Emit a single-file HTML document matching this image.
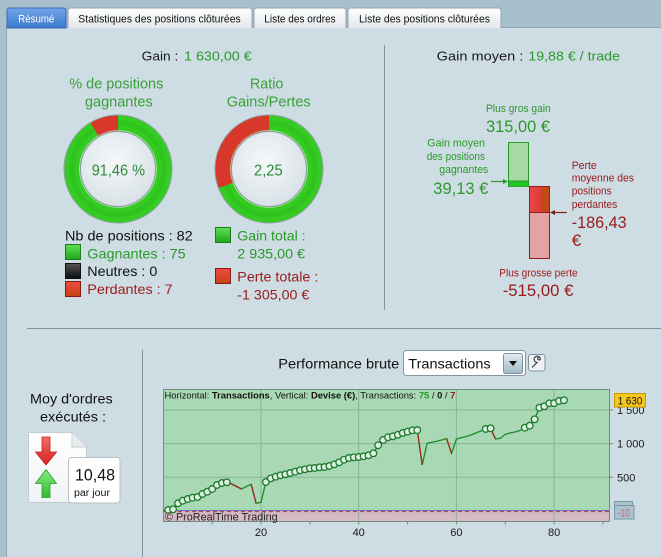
<!DOCTYPE html>
<html><head><meta charset="utf-8">
<style>
html,body{margin:0;padding:0;width:661px;height:557px;overflow:hidden;background:#a8c0cc;}
svg{display:block;font-family:"Liberation Sans",Arial,sans-serif;}
</style></head><body>
<svg width="661" height="557" viewBox="0 0 661 557" xmlns="http://www.w3.org/2000/svg">
<defs>
 <linearGradient id="tabA" x1="0" y1="0" x2="0" y2="1"><stop offset="0" stop-color="#72a6e8"/><stop offset="1" stop-color="#3a77cf"/></linearGradient>
 <linearGradient id="tabI" x1="0" y1="0" x2="0" y2="1"><stop offset="0" stop-color="#ffffff"/><stop offset="1" stop-color="#e4e9ec"/></linearGradient>
 <radialGradient id="disc" cx="0.45" cy="0.4" r="0.65"><stop offset="0" stop-color="#f6f8fa"/><stop offset="1" stop-color="#d6e0e6"/></radialGradient>
 <linearGradient id="sqG" x1="0" y1="0" x2="0" y2="1"><stop offset="0" stop-color="#5ee052"/><stop offset="1" stop-color="#1ea818"/></linearGradient>
 <linearGradient id="sqK" x1="0" y1="0" x2="0" y2="1"><stop offset="0" stop-color="#555"/><stop offset="1" stop-color="#0c0c0c"/></linearGradient>
 <linearGradient id="sqR" x1="0" y1="0" x2="0" y2="1"><stop offset="0" stop-color="#ee4a44"/><stop offset="1" stop-color="#c24410"/></linearGradient>
 <linearGradient id="redTop" x1="0" y1="0" x2="1" y2="0"><stop offset="0" stop-color="#e84848"/><stop offset="0.55" stop-color="#dc3c38"/><stop offset="0.6" stop-color="#c84818"/><stop offset="1" stop-color="#c04a14"/></linearGradient>
 <linearGradient id="btn" x1="0" y1="0" x2="0" y2="1"><stop offset="0" stop-color="#e4edf3"/><stop offset="1" stop-color="#9fb8c7"/></linearGradient>
 <linearGradient id="arR" x1="0" y1="0" x2="0" y2="1"><stop offset="0" stop-color="#f46a66"/><stop offset="1" stop-color="#d42222"/></linearGradient>
 <linearGradient id="arG" x1="0" y1="0" x2="0" y2="1"><stop offset="0" stop-color="#86ec7e"/><stop offset="1" stop-color="#34b834"/></linearGradient>
 <linearGradient id="doc" x1="0" y1="0" x2="0" y2="1"><stop offset="0" stop-color="#ffffff"/><stop offset="1" stop-color="#f0f3f5"/></linearGradient>
</defs>

<!-- panel -->
<rect x="6" y="27" width="655" height="530" fill="#cedce3"/>
<line x1="6" y1="27.5" x2="661" y2="27.5" stroke="#8ea6b3"/>
<line x1="6.5" y1="27" x2="6.5" y2="557" stroke="#8ea6b3"/>

<!-- tabs -->
<path d="M7,28 V11 Q7,8 10,8 H63 Q66,8 66,11 V28 Z" fill="url(#tabA)" stroke="#3a6db8"/>
<path d="M68,28 V11 Q68,8 71,8 H249 Q252,8 252,11 V28" fill="url(#tabI)" stroke="#93a4ae"/>
<path d="M254,28 V11 Q254,8 257,8 H343 Q346,8 346,11 V28" fill="url(#tabI)" stroke="#93a4ae"/>
<path d="M348,28 V11 Q348,8 351,8 H498 Q501,8 501,11 V28" fill="url(#tabI)" stroke="#93a4ae"/>
<g font-size="11">
<text x="18.3" y="22.5" fill="#ffffff" textLength="36" lengthAdjust="spacingAndGlyphs">Résumé</text>
<text x="78.3" y="22.5" fill="#111" textLength="162.4" lengthAdjust="spacingAndGlyphs">Statistiques des positions clôturées</text>
<text x="264.3" y="22.5" fill="#111" textLength="71.4" lengthAdjust="spacingAndGlyphs">Liste des ordres</text>
<text x="359" y="22.5" fill="#111" textLength="131" lengthAdjust="spacingAndGlyphs">Liste des positions clôturées</text>
</g>

<!-- dividers -->
<line x1="384.5" y1="45" x2="384.5" y2="310" stroke="#7f949f"/>
<line x1="27" y1="328.5" x2="661" y2="328.5" stroke="#7f949f"/>
<line x1="142.5" y1="350" x2="142.5" y2="557" stroke="#7f949f"/>

<!-- header left -->
<text x="141.7" y="60.5" font-size="13" fill="#1a1a1a" textLength="36.6" lengthAdjust="spacingAndGlyphs">Gain :</text>
<text x="184" y="60.5" font-size="13" fill="#2a9a2a" textLength="67.7" lengthAdjust="spacingAndGlyphs">1 630,00 €</text>
<g font-size="15" fill="#3a9f3a">
<text x="69.3" y="88.5" textLength="94" lengthAdjust="spacingAndGlyphs">% de positions</text>
<text x="85" y="106.5" textLength="67.7" lengthAdjust="spacingAndGlyphs">gagnantes</text>
<text x="250" y="88.5" textLength="33.3" lengthAdjust="spacingAndGlyphs">Ratio</text>
<text x="226.7" y="106.5" textLength="84" lengthAdjust="spacingAndGlyphs">Gains/Pertes</text>
</g>

<!-- donut 1 -->
<g>
<circle cx="118" cy="169" r="54" fill="none" stroke="#8c9ba2" stroke-width="1"/>
<circle cx="118" cy="169" r="45.5" fill="none" stroke="#34cc22" stroke-width="16"/>
<circle cx="118" cy="169" r="46" fill="none" stroke="#2ab81a" stroke-width="5" opacity="0.45"/>
<path d="M118,123.5 A45.5,45.5 0 0 0 94.74,129.9" fill="none" stroke="#d8382c" stroke-width="16"/>
<circle cx="118" cy="169" r="37.5" fill="url(#disc)" stroke="#8c9ba2" stroke-width="1"/>
<circle cx="118" cy="169" r="38.5" fill="none" stroke="#ffffff" stroke-width="0.8" opacity="0.6"/>
<text x="91.7" y="175.5" font-size="16" fill="#2a8c36" textLength="53.3" lengthAdjust="spacingAndGlyphs">91,46 %</text>
</g>
<!-- donut 2 -->
<g>
<circle cx="269" cy="169" r="54" fill="none" stroke="#8c9ba2" stroke-width="1"/>
<circle cx="269" cy="169" r="45.5" fill="none" stroke="#34cc22" stroke-width="16"/>
<circle cx="269" cy="169" r="46" fill="none" stroke="#2ab81a" stroke-width="5" opacity="0.45"/>
<path d="M269,123.5 A45.5,45.5 0 0 0 226.47,185.16" fill="none" stroke="#d8382c" stroke-width="16"/>
<path d="M269,129.5 A39.5,39.5 0 0 0 232.1,183" fill="none" stroke="#c24a18" stroke-width="3" opacity="0.5"/>
<circle cx="269" cy="169" r="37.5" fill="url(#disc)" stroke="#8c9ba2" stroke-width="1"/>
<circle cx="269" cy="169" r="38.5" fill="none" stroke="#ffffff" stroke-width="0.8" opacity="0.6"/>
<text x="254" y="175.5" font-size="16" fill="#2a8c36" textLength="28.7" lengthAdjust="spacingAndGlyphs">2,25</text>
</g>

<!-- legend left -->
<g font-size="14">
<text x="65" y="240.7" fill="#111" textLength="127.7" lengthAdjust="spacingAndGlyphs">Nb de positions : 82</text>
<rect x="65.5" y="244.5" width="15" height="15" fill="url(#sqG)" stroke="#1f7a1f"/>
<text x="87.3" y="258.3" fill="#2a9a2a" textLength="98.3" lengthAdjust="spacingAndGlyphs">Gagnantes : 75</text>
<rect x="65.5" y="263.5" width="15" height="15" fill="url(#sqK)" stroke="#111"/>
<text x="87.3" y="276" fill="#111" textLength="70" lengthAdjust="spacingAndGlyphs">Neutres : 0</text>
<rect x="65.5" y="281.5" width="15" height="15" fill="url(#sqR)" stroke="#8a1a1a"/>
<text x="87.3" y="294" fill="#9a1c1c" textLength="85.3" lengthAdjust="spacingAndGlyphs">Perdantes : 7</text>

<rect x="215.5" y="227.5" width="15" height="15" fill="url(#sqG)" stroke="#1f7a1f"/>
<text x="237.3" y="240.7" fill="#2a9a2a" textLength="68.3" lengthAdjust="spacingAndGlyphs">Gain total :</text>
<text x="237.3" y="258.3" fill="#2a9a2a" textLength="67.7" lengthAdjust="spacingAndGlyphs">2 935,00 €</text>
<rect x="215.5" y="268.5" width="15" height="15" fill="url(#sqR)" stroke="#8a1a1a"/>
<text x="237.3" y="281.7" fill="#9a1c1c" textLength="81" lengthAdjust="spacingAndGlyphs">Perte totale :</text>
<text x="237.3" y="299.3" fill="#9a1c1c" textLength="72" lengthAdjust="spacingAndGlyphs">-1 305,00 €</text>
</g>

<!-- right top -->
<text x="436.7" y="60.5" font-size="13" fill="#1a1a1a" textLength="86.6" lengthAdjust="spacingAndGlyphs">Gain moyen :</text>
<text x="528.3" y="60.5" font-size="13" fill="#2a9a2a" textLength="91.7" lengthAdjust="spacingAndGlyphs">19,88 € / trade</text>

<g fill="#2a9a2a">
<text x="486" y="112" font-size="11" textLength="64.7" lengthAdjust="spacingAndGlyphs">Plus gros gain</text>
<text x="486" y="132" font-size="17" textLength="64" lengthAdjust="spacingAndGlyphs">315,00 €</text>
<text x="427.3" y="146.5" font-size="11" textLength="57.7" lengthAdjust="spacingAndGlyphs">Gain moyen</text>
<text x="426.7" y="159.8" font-size="11" textLength="58.3" lengthAdjust="spacingAndGlyphs">des positions</text>
<text x="439.3" y="173.1" font-size="11" textLength="49" lengthAdjust="spacingAndGlyphs">gagnantes</text>
<text x="433.3" y="194" font-size="17" textLength="55" lengthAdjust="spacingAndGlyphs">39,13 €</text>
</g>
<g fill="#9a1a1a">
<text x="571.7" y="169" font-size="11" textLength="25" lengthAdjust="spacingAndGlyphs">Perte</text>
<text x="571.7" y="181.7" font-size="11" textLength="62.3" lengthAdjust="spacingAndGlyphs">moyenne des</text>
<text x="571.7" y="194.7" font-size="11" textLength="40" lengthAdjust="spacingAndGlyphs">positions</text>
<text x="571.7" y="208" font-size="11" textLength="45.6" lengthAdjust="spacingAndGlyphs">perdantes</text>
<text x="571.7" y="228" font-size="17" textLength="55" lengthAdjust="spacingAndGlyphs">-186,43</text>
<text x="571.7" y="246" font-size="17">€</text>
<text x="499.3" y="276.7" font-size="11" textLength="78.3" lengthAdjust="spacingAndGlyphs">Plus grosse perte</text>
<text x="502.7" y="296" font-size="17" textLength="70.7" lengthAdjust="spacingAndGlyphs">-515,00 €</text>
</g>

<!-- bars -->
<rect x="508.5" y="142.5" width="20" height="44" fill="#a6daa4" stroke="#2a9a2a"/>
<rect x="509" y="181" width="19" height="5.5" fill="#22c422"/>
<line x1="508.5" y1="181" x2="528.5" y2="181" stroke="#2a9a2a"/>
<rect x="529.5" y="186.5" width="20" height="72" fill="#e4a3a3" stroke="#9a1a1a"/>
<rect x="530" y="187" width="19" height="25.3" fill="url(#redTop)"/>
<line x1="529.5" y1="212.5" x2="549.5" y2="212.5" stroke="#9a1a1a"/>
<line x1="491" y1="181.5" x2="504" y2="181.5" stroke="#2a9a2a" stroke-width="1.2"/>
<path d="M508,181.5 L503,179 L503,184 Z" fill="#2a9a2a"/>
<line x1="554" y1="212.5" x2="567" y2="212.5" stroke="#8a1a1a" stroke-width="1.2"/>
<path d="M550,212.5 L555,210 L555,215 Z" fill="#8a1a1a"/>

<!-- bottom left -->
<text x="30" y="403.3" font-size="14" fill="#111" textLength="82.7" lengthAdjust="spacingAndGlyphs">Moy d'ordres</text>
<text x="40" y="421.7" font-size="14" fill="#111" textLength="66" lengthAdjust="spacingAndGlyphs">exécutés :</text>
<path d="M28.5,432.5 H72 L86.5,447 V502.5 H28.5 Z" fill="url(#doc)" stroke="#c4ccd2"/>
<path d="M72,432.5 V447 H86.5" fill="#e8ecef" stroke="#c4ccd2"/>
<path d="M42,437 H50 V452 H56.5 L46,465 L35.5,452 H42 Z" fill="url(#arR)" stroke="#c02020" stroke-width="0.8"/>
<path d="M46,469.5 L56.5,483.5 H50 V497.5 H42 V483.5 H35.5 Z" fill="url(#arG)" stroke="#2a9a2a" stroke-width="0.8"/>
<rect x="68.5" y="457.5" width="51.5" height="45.5" rx="3" fill="#ffffff" stroke="#b6c0c6"/>
<text x="75" y="480.3" font-size="17" fill="#111" textLength="40" lengthAdjust="spacingAndGlyphs">10,48</text>
<text x="74" y="496" font-size="10" fill="#111" textLength="36" lengthAdjust="spacingAndGlyphs">par jour</text>

<!-- chart controls -->
<text x="278.3" y="368.3" font-size="14" fill="#111" textLength="121" lengthAdjust="spacingAndGlyphs">Performance brute</text>
<rect x="403.5" y="350.5" width="122" height="25" rx="3" fill="#ffffff" stroke="#8596a2"/>
<text x="408.3" y="368.3" font-size="14" fill="#111" textLength="82.3" lengthAdjust="spacingAndGlyphs">Transactions</text>
<rect x="503.5" y="353.5" width="19" height="20" rx="2" fill="url(#btn)" stroke="#7d919d"/>
<path d="M509,361 H517 L513,366 Z" fill="#111"/>
<rect x="528.5" y="354.5" width="16.5" height="16.5" rx="2.5" fill="#eef2f4" stroke="#7d919d"/>
<path d="M532,367.5 L537.5,362 M537,362.5 A3.2,3.2 0 1 1 540.5,359 L539.5,360 L538,359.5 L537.5,358 L538.5,357" fill="none" stroke="#333" stroke-width="1.1"/>

<!-- plot -->
<rect x="163.5" y="389.5" width="446" height="132" fill="#a8d8b4" stroke="#6e8f80"/>
<rect x="164" y="511" width="445" height="10" fill="#d6bac3"/>
<g stroke="#86b596" stroke-width="1">
<line x1="261" y1="390" x2="261" y2="521"/>
<line x1="358.7" y1="390" x2="358.7" y2="521"/>
<line x1="456.4" y1="390" x2="456.4" y2="521"/>
<line x1="554.1" y1="390" x2="554.1" y2="521"/>
<line x1="164" y1="477.3" x2="609" y2="477.3"/>
<line x1="164" y1="443.6" x2="609" y2="443.6"/>
<line x1="164" y1="409.9" x2="609" y2="409.9"/>
</g>
<line x1="164" y1="510.5" x2="609" y2="510.5" stroke="#5a7ad0" stroke-width="1"/>
<line x1="164" y1="511.5" x2="609" y2="511.5" stroke="#c0405a" stroke-width="1.2" stroke-dasharray="4,3"/>
<g stroke="#6e8f80">
<line x1="212.2" y1="521.5" x2="212.2" y2="524.5"/><line x1="261" y1="521.5" x2="261" y2="524.5"/>
<line x1="309.9" y1="521.5" x2="309.9" y2="524.5"/><line x1="358.7" y1="521.5" x2="358.7" y2="524.5"/>
<line x1="407.6" y1="521.5" x2="407.6" y2="524.5"/><line x1="456.4" y1="521.5" x2="456.4" y2="524.5"/>
<line x1="505.3" y1="521.5" x2="505.3" y2="524.5"/><line x1="554.1" y1="521.5" x2="554.1" y2="524.5"/>
<line x1="603" y1="521.5" x2="603" y2="524.5"/>
<line x1="609.5" y1="477.3" x2="613" y2="477.3"/><line x1="609.5" y1="443.6" x2="613" y2="443.6"/><line x1="609.5" y1="409.9" x2="613" y2="409.9"/>
</g>

<text x="164.5" y="398.5" font-size="9.4" fill="#111">Horizontal: <tspan font-weight="bold">Transactions</tspan>, Vertical: <tspan font-weight="bold">Devise (€)</tspan>, Transactions: <tspan font-weight="bold" fill="#2a9a2a">75</tspan> / <tspan font-weight="bold">0</tspan> / <tspan font-weight="bold" fill="#a01818">7</tspan></text>

<!-- equity line -->
<polyline fill="none" stroke="#1f8a2a" stroke-width="1.3" points="163.3,511 168.2,510 173.1,509.3 178.0,503.3 182.8,500.7 187.7,499 192.6,497.7 197.5,497 202.4,494 207.3,491.7 212.2,489 217.0,485 221.9,483 226.8,482.3 231.7,484 236.6,486.5 241.5,489 246.3,486.6 251.2,484.3 256.1,503.3 261.0,502.3 265.9,482 270.8,478.3 275.7,476.7 280.5,475.3 285.4,474.3 290.3,473 295.2,471.7 300.1,470.3 305.0,469.3 309.9,468.3 314.7,468 319.6,467.3 324.5,467 329.4,466 334.3,464.3 339.2,462.3 344.0,459.7 348.9,458 353.8,457.3 358.7,457 363.6,456.3 368.5,455.3 373.4,453.3 378.2,445.3 383.1,440 388.0,437.3 392.9,436.3 397.8,434.8 402.7,433 407.6,431.7 412.4,430.3 417.3,430.1 422.2,465 427.1,443.3 432.0,442.2 436.9,441.2 441.7,440 446.6,438.5 451.5,453.3 456.4,439 461.3,437.8 466.2,436.5 471.1,435 475.9,433 480.8,431 485.7,429 490.6,428.3 495.5,439 500.4,438.3 505.3,434.3 510.1,433 515.0,432 519.9,430.5 524.8,427.7 529.7,425.7 534.6,419.3 539.4,407.7 544.3,406.3 549.2,403.3 554.1,403.2 559.0,401 563.9,400.3"/>
<g fill="none" stroke="#a02a20" stroke-width="1.3">
<polyline points="226.8,482.3 231.7,484 236.6,486.5 241.5,489"/>
<polyline points="251.2,484.3 256.1,503.3"/>
<polyline points="417.3,430.1 422.2,465"/>
<polyline points="446.6,438.5 451.5,453.3"/>
<polyline points="490.6,428.3 495.5,439"/>
</g>
<g fill="#dcefe0" stroke="#1a7a2a" stroke-width="1.3">
<circle cx="168.2" cy="510" r="3.3"/><circle cx="173.1" cy="509.3" r="3.3"/><circle cx="178.0" cy="503.3" r="3.3"/><circle cx="182.8" cy="500.7" r="3.3"/><circle cx="187.7" cy="499" r="3.3"/><circle cx="192.6" cy="497.7" r="3.3"/><circle cx="197.5" cy="497" r="3.3"/><circle cx="202.4" cy="494" r="3.3"/><circle cx="207.3" cy="491.7" r="3.3"/><circle cx="212.2" cy="489" r="3.3"/><circle cx="217.0" cy="485" r="3.3"/><circle cx="221.9" cy="483" r="3.3"/><circle cx="226.8" cy="482.3" r="3.3"/>
<circle cx="265.9" cy="482" r="3.3"/><circle cx="270.8" cy="478.3" r="3.3"/><circle cx="275.7" cy="476.7" r="3.3"/><circle cx="280.5" cy="475.3" r="3.3"/><circle cx="285.4" cy="474.3" r="3.3"/><circle cx="290.3" cy="473" r="3.3"/><circle cx="295.2" cy="471.7" r="3.3"/><circle cx="300.1" cy="470.3" r="3.3"/><circle cx="305.0" cy="469.3" r="3.3"/><circle cx="309.9" cy="468.3" r="3.3"/><circle cx="314.7" cy="468" r="3.3"/><circle cx="319.6" cy="467.3" r="3.3"/><circle cx="324.5" cy="467" r="3.3"/><circle cx="329.4" cy="466" r="3.3"/><circle cx="334.3" cy="464.3" r="3.3"/><circle cx="339.2" cy="462.3" r="3.3"/><circle cx="344.0" cy="459.7" r="3.3"/><circle cx="348.9" cy="458" r="3.3"/><circle cx="353.8" cy="457.3" r="3.3"/><circle cx="358.7" cy="457" r="3.3"/><circle cx="363.6" cy="456.3" r="3.3"/><circle cx="368.5" cy="455.3" r="3.3"/><circle cx="373.4" cy="453.3" r="3.3"/><circle cx="378.2" cy="445.3" r="3.3"/><circle cx="383.1" cy="440" r="3.3"/><circle cx="388.0" cy="437.3" r="3.3"/><circle cx="392.9" cy="436.3" r="3.3"/><circle cx="397.8" cy="434.8" r="3.3"/><circle cx="402.7" cy="433" r="3.3"/><circle cx="407.6" cy="431.7" r="3.3"/><circle cx="412.4" cy="430.3" r="3.3"/><circle cx="417.3" cy="430.1" r="3.3"/>
<circle cx="485.7" cy="429" r="3.3"/><circle cx="490.6" cy="428.3" r="3.3"/>
<circle cx="524.8" cy="427.7" r="3.3"/><circle cx="529.7" cy="425.7" r="3.3"/><circle cx="534.6" cy="419.3" r="3.3"/><circle cx="539.4" cy="407.7" r="3.3"/><circle cx="544.3" cy="406.3" r="3.3"/><circle cx="549.2" cy="403.3" r="3.3"/><circle cx="554.1" cy="403.2" r="3.3"/><circle cx="559.0" cy="401" r="3.3"/><circle cx="563.9" cy="400.3" r="3.3"/>
</g>
<text x="165" y="520.5" font-size="11" fill="#222" textLength="112.7" lengthAdjust="spacingAndGlyphs">© ProRealTime Trading</text>

<!-- axis labels -->
<g font-size="11" fill="#1a1a1a">
<text x="261" y="536" text-anchor="middle">20</text>
<text x="358.7" y="536" text-anchor="middle">40</text>
<text x="456.4" y="536" text-anchor="middle">60</text>
<text x="554.1" y="536" text-anchor="middle">80</text>
<text x="617" y="414">1 500</text>
<text x="617" y="447.5">1 000</text>
<text x="617" y="481.5">500</text>
</g>
<rect x="614.5" y="393.5" width="31" height="13.5" fill="#f6c81c" stroke="#c89a00"/>
<text x="617.7" y="404.3" font-size="11" fill="#111" textLength="24.6" lengthAdjust="spacingAndGlyphs">1 630</text>
<rect x="614.5" y="501.5" width="18" height="13" fill="#a9c3cf" stroke="#7d95a3"/>
<rect x="614.5" y="505.5" width="19.5" height="13.5" fill="#a9c3cf" stroke="#7d95a3"/>
<text x="617.5" y="516.3" font-size="11" fill="#c86676" textLength="12.5" lengthAdjust="spacingAndGlyphs">-10</text>
</svg>
</body></html>
